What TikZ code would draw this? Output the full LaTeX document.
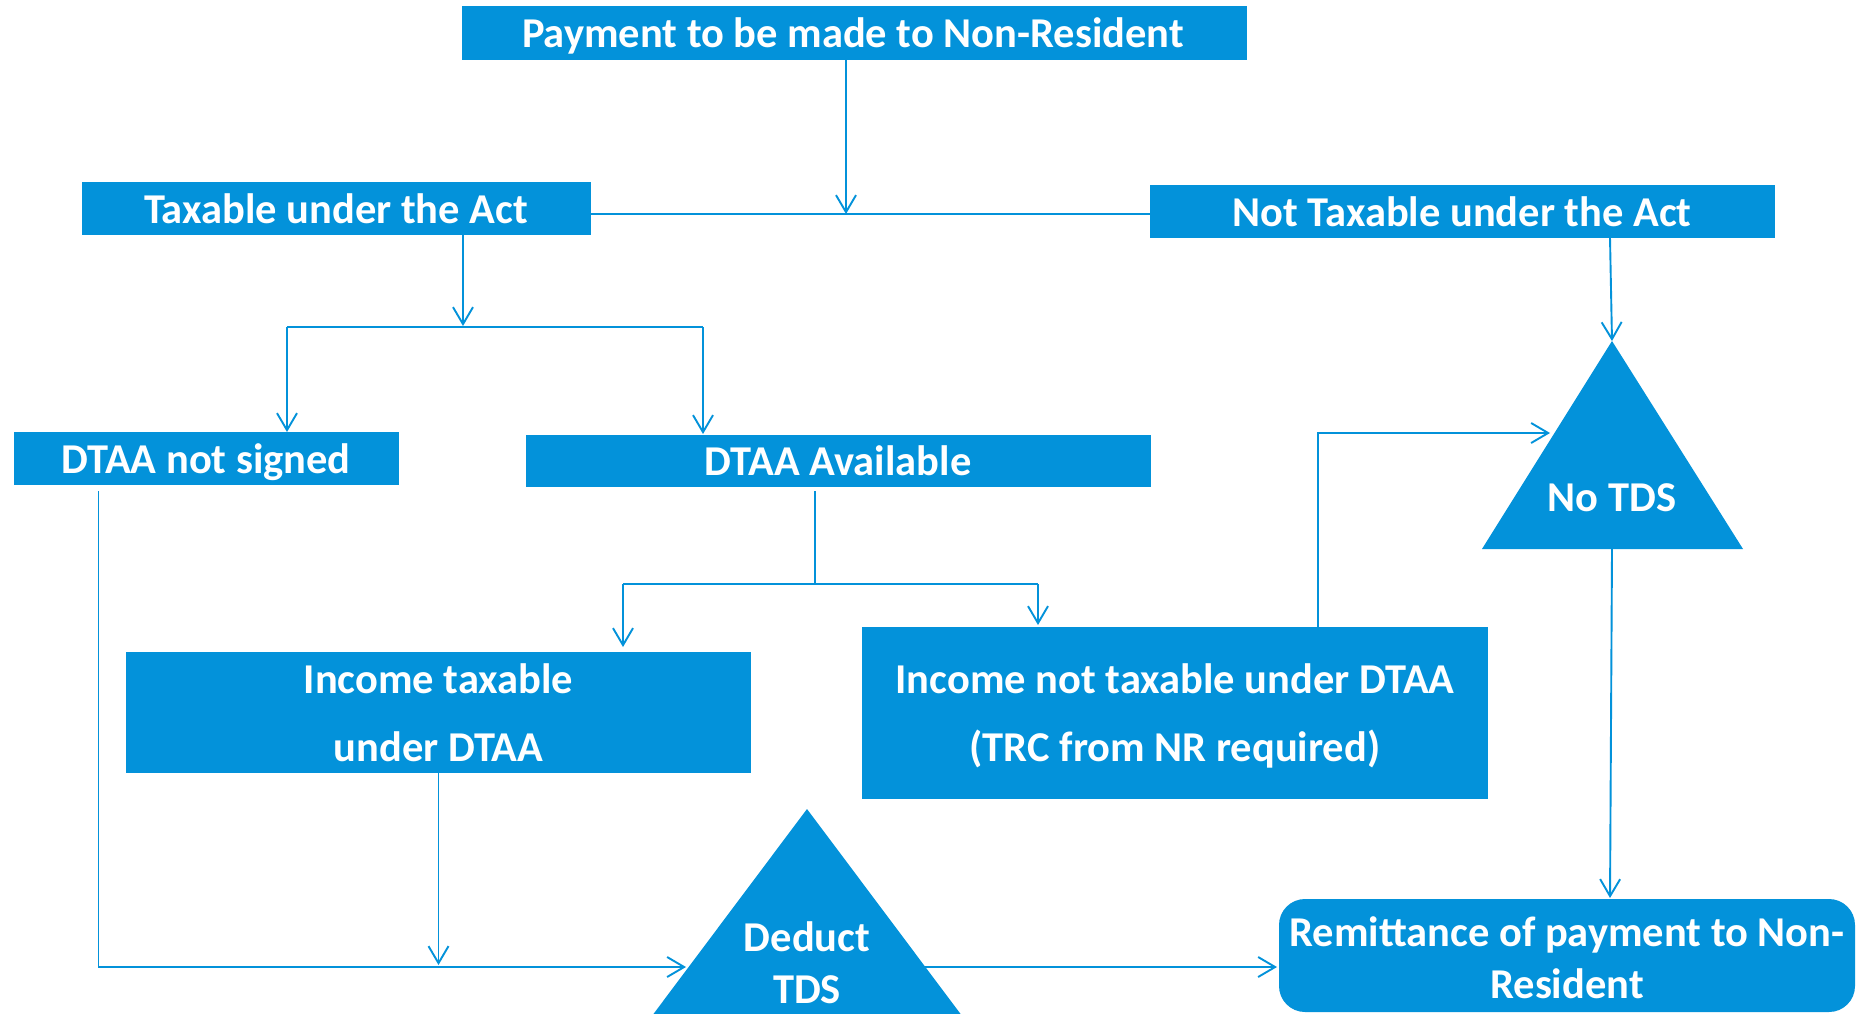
\documentclass[tikz,border=0pt]{standalone}
\usepackage{fontspec}
\setmainfont{Carlito}
\usetikzlibrary{arrows.meta}
\definecolor{bl}{RGB}{3,146,218}
\begin{document}
\begin{tikzpicture}[x=1pt,y=-1pt,
  box/.style={fill=bl, draw=none, inner sep=0pt, outer sep=0pt},
  txt/.style={text=white, font=\fontsize{42.5}{50}\selectfont\bfseries, inner sep=0pt, anchor=base},
  conn/.style={draw=bl, line width=1.9pt},
  arr/.style={conn, -{Straight Barb[length=17pt,width=20pt]}}]
\useasboundingbox (0,0) rectangle (1860,1013);
\clip (0,0) rectangle (1860,1013);
\fill[white] (0,0) rectangle (1860,1013);

% boxes
\node[box, minimum width=785pt, minimum height=54pt] (top) at (854.5,33) {};
\node[txt] (top-t) at (853,47) {Payment to be made to Non-Resident};

\node[box, minimum width=509pt, minimum height=53pt] (tax) at (336.5,208.5) {};
\node[txt] (tax-t) at (336,223) {Taxable under the Act};

\node[box, minimum width=625pt, minimum height=53pt] (ntax) at (1462.5,211.5) {};
\node[txt] (ntax-t) at (1462,226) {Not Taxable under the Act};

\node[box, minimum width=385pt, minimum height=53pt] (dns) at (206.5,458.5) {};
\node[txt] (dns-t) at (206,473) {DTAA not signed};

\node[box, minimum width=625pt, minimum height=52pt] (dav) at (838.5,461) {};
\node[txt] (dav-t) at (838,475) {DTAA Available};

\node[box, minimum width=625pt, minimum height=121pt] (inc) at (438.5,712.5) {};
\node[txt] (inc-t1) at (438.5,693) {Income taxable};
\node[txt] (inc-t2) at (438.5,761) {under DTAA};

\node[box, minimum width=626pt, minimum height=172pt] (inn) at (1175,713) {};
\node[txt] (inn-t1) at (1175,693) {Income not taxable under DTAA};
\node[txt] (inn-t2) at (1175,761) {(TRC from NR required)};

\node[box, rounded corners=26pt, minimum width=576pt, minimum height=113pt] (remit) at (1567,955.5) {};
\node[txt] (remit-t1) at (1567,946) {Remittance of payment to Non-};
\node[txt] (remit-t2) at (1567,998) {Resident};

% triangles
\coordinate (notds-apex) at (1612,341);
\coordinate (notds-base) at (1612,549);
\fill[bl] (notds-apex) -- (1743,549) -- (1482,549) -- cycle;
\node[txt] (notds) at (1612,511) {No TDS};

\coordinate (ded-apex) at (807,809);
\fill[bl] (ded-apex) -- (1025,1100) -- (589,1100) -- cycle;
\node[txt] (ded-t1) at (807,951) {Deduct};
\node[txt] (ded-t2) at (807,1003) {TDS};

% connectors
\coordinate (j1) at (846,214);
\draw[arr] (top.south -| j1) -- (j1);
\draw[conn] (tax.east |- j1) -- (ntax.west |- j1);

\coordinate (j2) at (463,326);
\draw[arr] (tax.south -| j2) -- (j2);
\coordinate (b1) at (287,327);
\coordinate (b2) at (703,327);
\draw[conn] (b1) -- (b2);
\draw[arr] (b1) -- (b1 |- dns.north);
\draw[arr, shorten >=1pt] (b2) -- (b2 |- dav.north);

\coordinate (n1) at (1610,238);
\draw[arr] (n1) -- (notds-apex);

\coordinate (d1) at (98.5,491);
\coordinate (d2) at (98.5,967);
\coordinate (ded-l) at (686,967);
\draw[arr] (d1) -- (d2) -- (ded-l);

\coordinate (a1) at (815,491);
\coordinate (a2) at (815,584);
\coordinate (c1) at (623,584);
\coordinate (c2) at (1038,584);
\draw[conn] (a1) -- (a2);
\draw[conn] (c1) -- (c2);
\draw[arr, shorten >=5pt] (c1) -- (c1 |- inc.north);
\draw[arr, shorten >=2pt] (c2) -- (c2 |- inn.north);

\draw[arr, shorten >=2pt] (inc.south) -- (inc.south |- d2);

\coordinate (i1) at (1318,627);
\coordinate (nl) at (1550,433);
\draw[arr] (inn.north -| i1) -- (i1 |- nl) -- (nl);

\coordinate (r1) at (1610,899);
\draw[arr, shorten >=1pt] (notds-base) -- (r1);

\coordinate (ded-r) at (925,967);
\draw[arr, shorten >=2pt] (ded-r) -- (remit.west |- ded-r);
\end{tikzpicture}
\end{document}
